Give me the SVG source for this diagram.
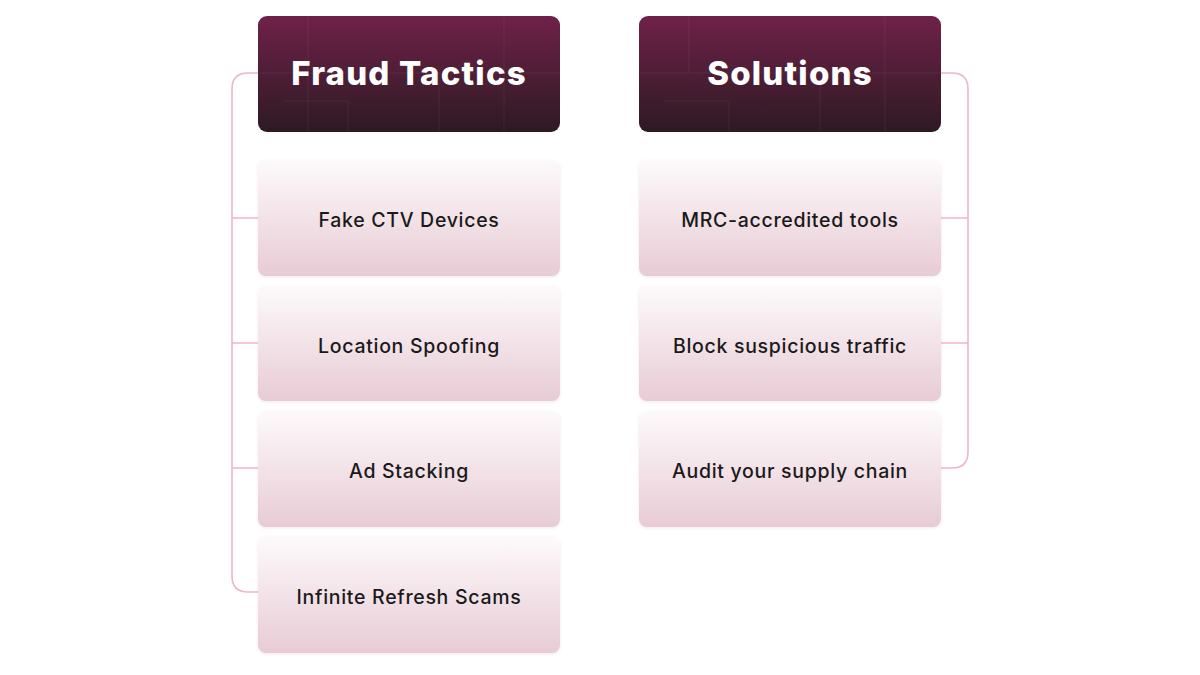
<svg xmlns="http://www.w3.org/2000/svg" width="1200" height="675" viewBox="0 0 1200 675">
<defs>
<linearGradient id="hg" x1="0" y1="0" x2="0" y2="1">
<stop offset="0" stop-color="#6f2148"/>
<stop offset="1" stop-color="#2d1a23"/>
</linearGradient>
<linearGradient id="ig" x1="0" y1="0" x2="0" y2="1">
<stop offset="0" stop-color="#fdfafb"/>
<stop offset="1" stop-color="#e8cbd5"/>
</linearGradient>
<filter id="sh" x="-10%" y="-10%" width="120%" height="130%">
<feDropShadow dx="0" dy="1" stdDeviation="1.5" flood-color="#a06080" flood-opacity="0.15"/>
</filter>
</defs>
<style>
.hdr{fill:url(#hg)}
.itm{fill:url(#ig);filter:url(#sh)}
.grid{stroke:#ffffff;stroke-opacity:0.06;stroke-width:1;fill:none}
.ht{font-family:Inter,"Noto Sans","DejaVu Sans",sans-serif;font-weight:800;font-size:33px;letter-spacing:1.2px;fill:#ffffff;text-anchor:middle}
.it{font-family:Inter,"Noto Sans","DejaVu Sans",sans-serif;font-weight:500;font-size:19.5px;letter-spacing:0.7px;fill:#1a1a1a;text-anchor:middle}
.con{stroke:#f0b5c9;stroke-width:1.6;fill:none}
</style>
<rect width="1200" height="675" fill="#ffffff"/>
<g id="connectors">
<path class="con" d="M258,73 H248 Q232,73 232,89 V576 Q232,592 248,592 H258"/>
<path class="con" d="M232,218 H258 M232,343 H258 M232,468 H258"/>
<path class="con" d="M941,73 H952 Q968,73 968,89 V452 Q968,468 952,468 H941"/>
<path class="con" d="M941,218 H968 M941,343 H968"/>
</g>
<g id="fraud-tactics">
<rect class="hdr" x="258" y="16" width="302" height="116" rx="9"/>
<path class="grid" d="M308,16 V132 M504,16 V132 M439,73 V132 M258,73 H560 M283,101 H348 V132"/>
<text class="ht" x="409" y="85">Fraud Tactics</text>
</g>
<g id="solutions">
<rect class="hdr" x="639" y="16" width="302" height="116" rx="9"/>
<path class="grid" d="M689,16 V73 M885,16 V132 M820,73 V132 M639,73 H941 M664,101 H729 V132"/>
<text class="ht" x="790" y="85">Solutions</text>
</g>
<g id="fake-ctv">
<rect class="itm" x="258" y="160" width="302" height="116" rx="8"/>
<text class="it" x="409" y="227">Fake CTV Devices</text>
</g>
<g id="location-spoofing">
<rect class="itm" x="258" y="286" width="302" height="115" rx="8"/>
<text class="it" x="409" y="353">Location Spoofing</text>
</g>
<g id="ad-stacking">
<rect class="itm" x="258" y="411" width="302" height="116" rx="8"/>
<text class="it" x="409" y="478">Ad Stacking</text>
</g>
<g id="infinite-refresh">
<rect class="itm" x="258" y="537" width="302" height="116" rx="8"/>
<text class="it" x="409" y="604">Infinite Refresh Scams</text>
</g>
<g id="mrc-tools">
<rect class="itm" x="639" y="160" width="302" height="116" rx="8"/>
<text class="it" x="790" y="227">MRC-accredited tools</text>
</g>
<g id="block-traffic">
<rect class="itm" x="639" y="286" width="302" height="115" rx="8"/>
<text class="it" x="790" y="353">Block suspicious traffic</text>
</g>
<g id="audit-supply">
<rect class="itm" x="639" y="411" width="302" height="116" rx="8"/>
<text class="it" x="790" y="478">Audit your supply chain</text>
</g>
</svg>
